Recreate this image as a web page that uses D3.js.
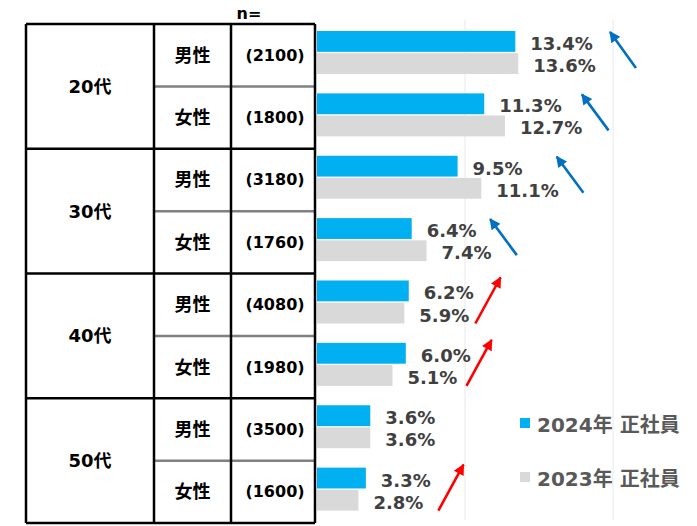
<!DOCTYPE html>
<html><head><meta charset="utf-8">
<script src="https://cdn.jsdelivr.net/npm/d3@7"></script>
<style>
html,body{margin:0;padding:0;background:#fff;}
svg{display:block;font-family:"DejaVu Sans","Noto Sans CJK JP",sans-serif;font-weight:bold;}
</style></head>
<body>
<svg id="c" width="697" height="526"></svg>
<script>
// ---- data ----
const ageGroups = ["20代","30代","40代","50代"];
const genders = ["男性","女性"];
const sampleSizes = ["(2100)","(1800)","(3180)","(1760)","(4080)","(1980)","(3500)","(1600)"];
const seriesNames = ["2024年 正社員","2023年 正社員"];
const values2024 = [13.4, 11.3, 9.5, 6.4, 6.2, 6.0, 3.6, 3.3];
const values2023 = [13.6, 12.7, 11.1, 7.4, 5.9, 5.1, 3.6, 2.8];
const gridTicks = [10, 20];
// trend arrows (annotation): row, direction, start/end along value axis
const arrows = [
  {row:0, dir:"down", from:21.55, to:19.8},
  {row:1, dir:"down", from:19.7, to:17.9},
  {row:2, dir:"down", from:18.0, to:16.2},
  {row:3, dir:"down", from:13.5, to:11.7},
  {row:4, dir:"up", from:10.7, to:12.4},
  {row:5, dir:"up", from:10.1, to:11.8},
  {row:7, dir:"up", from:8.2, to:9.9}
];

const colors = ["#00B0F0", "#D9D9D9"];
const svg = d3.select("#c");

const rows = d3.range(values2024.length);
const tableTop = 24, tableBottom = 523;
const y = d3.scaleBand().domain(rows).range([tableTop, tableBottom]);
const x = d3.scaleLinear().domain([0, 20]).range([317, 613]);
const sub = d3.scaleBand().domain([0,1]).range([7, 50]).paddingInner(0.06);

const colX = [26, 154, 231, 315];

// gridlines
svg.append("g").selectAll("line").data(gridTicks).join("line")
  .attr("x1", d => x(d)).attr("x2", d => x(d))
  .attr("y1", 20).attr("y2", 520)
  .attr("stroke", "#E8E8E8").attr("stroke-width", 1);

// bars
const series = [values2024, values2023];
series.forEach((vals, si) => {
  const g = svg.append("g");
  g.selectAll("rect").data(vals).join("rect")
    .attr("x", x(0))
    .attr("y", (d, i) => y(i) + sub(si))
    .attr("width", d => x(d) - x(0))
    .attr("height", sub.bandwidth())
    .attr("fill", colors[si]);
  g.selectAll("text").data(vals).join("text")
    .attr("x", d => x(d) + 15)
    .attr("y", (d, i) => y(i) + sub(si) + sub.bandwidth()/2 + 2)
    .attr("dominant-baseline", "central")
    .attr("font-size", 18)
    .attr("fill", "#404040")
    .text(d => d.toFixed(1) + "%");
});

// table
const tg = svg.append("g");
// in-group gray separators
ageGroups.forEach((a, gi) => {
  const ym = y(gi*2 + 1);
  tg.append("line").attr("x1", colX[1]).attr("x2", colX[3])
    .attr("y1", ym).attr("y2", ym).attr("stroke", "#808080").attr("stroke-width", 2.5);
});
// group separators
d3.range(ageGroups.length + 1).forEach(k => {
  const yy = k < ageGroups.length ? y(k*2) : tableBottom;
  tg.append("line").attr("x1", colX[0]).attr("x2", colX[3])
    .attr("y1", yy).attr("y2", yy).attr("stroke", "#000").attr("stroke-width", 2.5);
});
colX.forEach(cx => {
  tg.append("line").attr("x1", cx).attr("x2", cx)
    .attr("y1", tableTop).attr("y2", tableBottom).attr("stroke", "#000").attr("stroke-width", 2.5);
});
// age labels
tg.selectAll("text.age").data(ageGroups).join("text").attr("class","age")
  .attr("x", (colX[0]+colX[1])/2)
  .attr("y", (d, i) => y(i*2) + y.bandwidth())
  .attr("text-anchor", "middle").attr("dominant-baseline", "central")
  .attr("font-size", 18).attr("fill", "#000").text(d => d);
// gender labels
tg.selectAll("text.gen").data(rows).join("text").attr("class","gen")
  .attr("x", (colX[1]+colX[2])/2)
  .attr("y", i => y(i) + y.bandwidth()/2)
  .attr("text-anchor", "middle").attr("dominant-baseline", "central")
  .attr("font-size", 18).attr("fill", "#000").text(i => genders[i % 2]);
// n labels
tg.selectAll("text.n").data(sampleSizes).join("text").attr("class","n")
  .attr("x", (colX[2]+colX[3])/2 + 2)
  .attr("y", (d, i) => y(i) + y.bandwidth()/2)
  .attr("text-anchor", "middle").attr("dominant-baseline", "central")
  .attr("font-size", 16).attr("fill", "#000").text(d => d);
tg.append("text").attr("x", 249).attr("y", 13)
  .attr("text-anchor", "middle").attr("dominant-baseline", "central")
  .attr("font-size", 16).attr("fill", "#000").text("n=");

// arrows
const defs = svg.append("defs");
[["down","#0070C0"],["up","#FF0000"]].forEach(([k,c]) => {
  defs.append("marker").attr("id", "ah-"+k)
    .attr("viewBox", "0 0 10 10").attr("refX", 9).attr("refY", 5)
    .attr("markerUnits", "userSpaceOnUse")
    .attr("markerWidth", 13).attr("markerHeight", 11).attr("orient", "auto")
    .append("path").attr("d", "M0,0 L10,5 L0,10 Z").attr("fill", c);
});
svg.append("g").selectAll("line").data(arrows).join("line")
  .attr("x1", d => x(d.from)).attr("x2", d => x(d.to))
  .attr("y1", d => y(d.row) + (d.dir === "down" ? 44 : 50))
  .attr("y2", d => y(d.row) + (d.dir === "down" ? 8 : 4))
  .attr("stroke", d => d.dir === "down" ? "#0070C0" : "#FF0000")
  .attr("stroke-width", 2.6)
  .attr("marker-end", d => "url(#ah-" + d.dir + ")");

// legend
const lg = svg.append("g");
seriesNames.forEach((s, i) => {
  const ly = 423 + i*54;
  lg.append("rect").attr("x", 520).attr("y", ly - 5).attr("width", 10).attr("height", 10).attr("fill", colors[i]);
  lg.append("text").attr("x", 537).attr("y", ly + 2)
    .attr("dominant-baseline", "central").attr("font-size", 20).attr("fill", "#595959").text(s);
});
</script>
</body></html>
